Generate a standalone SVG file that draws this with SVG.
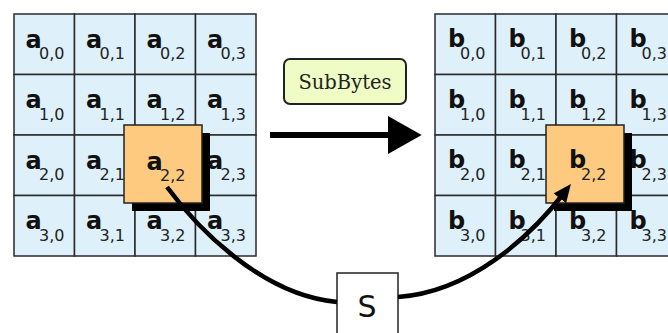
<svg xmlns="http://www.w3.org/2000/svg" width="668" height="333" viewBox="0 0 668 333">
<defs>
<style>
.cell{fill:#def0fa;stroke:#2a2a2a;stroke-width:1.5}
.hl{fill:#fdca80;stroke:#222;stroke-width:1.5}
.sh{fill:#000}
.m{font-family:"DejaVu Sans",sans-serif;font-weight:bold;font-size:24px;fill:#111}
.s{font-family:"DejaVu Sans",sans-serif;font-size:16px;fill:#222}
.conn{fill:none;stroke:#000;stroke-width:4.5}
</style>
<marker id="head" markerUnits="userSpaceOnUse" markerWidth="18" markerHeight="16" refX="6" refY="7" orient="auto" viewBox="0 0 16 14">
<path d="M0,0 L16,7 L0,14 z" fill="#000"/>
</marker>
<marker id="bighead" markerUnits="userSpaceOnUse" markerWidth="34" markerHeight="38" refX="2" refY="18" orient="auto" viewBox="0 0 32 36">
<path d="M0,0 L32,18 L0,36 z" fill="#000"/>
</marker>
</defs>
<rect width="668" height="333" fill="#fff"/>
<g id="stateA">
<g id="a00"><rect class="cell" x="14" y="14" width="60.5" height="60.5"/><text class="m" x="25.5" y="47.5">a</text><text class="s" x="39" y="59">0,0</text></g>
<g id="a01"><rect class="cell" x="74.5" y="14" width="60.5" height="60.5"/><text class="m" x="86" y="47.5">a</text><text class="s" x="99.5" y="59">0,1</text></g>
<g id="a02"><rect class="cell" x="135" y="14" width="60.5" height="60.5"/><text class="m" x="146.5" y="47.5">a</text><text class="s" x="160" y="59">0,2</text></g>
<g id="a03"><rect class="cell" x="195.5" y="14" width="60.5" height="60.5"/><text class="m" x="207" y="47.5">a</text><text class="s" x="220.5" y="59">0,3</text></g>
<g id="a10"><rect class="cell" x="14" y="74.5" width="60.5" height="60.5"/><text class="m" x="25.5" y="108">a</text><text class="s" x="39" y="119.5">1,0</text></g>
<g id="a11"><rect class="cell" x="74.5" y="74.5" width="60.5" height="60.5"/><text class="m" x="86" y="108">a</text><text class="s" x="99.5" y="119.5">1,1</text></g>
<g id="a12"><rect class="cell" x="135" y="74.5" width="60.5" height="60.5"/><text class="m" x="146.5" y="108">a</text><text class="s" x="160" y="119.5">1,2</text></g>
<g id="a13"><rect class="cell" x="195.5" y="74.5" width="60.5" height="60.5"/><text class="m" x="207" y="108">a</text><text class="s" x="220.5" y="119.5">1,3</text></g>
<g id="a20"><rect class="cell" x="14" y="135" width="60.5" height="60.5"/><text class="m" x="25.5" y="168.5">a</text><text class="s" x="39" y="180">2,0</text></g>
<g id="a21"><rect class="cell" x="74.5" y="135" width="60.5" height="60.5"/><text class="m" x="86" y="168.5">a</text><text class="s" x="99.5" y="180">2,1</text></g>
<g id="a22cell"><rect class="cell" x="135" y="135" width="60.5" height="60.5"/></g>
<g id="a23"><rect class="cell" x="195.5" y="135" width="60.5" height="60.5"/><text class="m" x="207" y="168.5">a</text><text class="s" x="220.5" y="180">2,3</text></g>
<g id="a30"><rect class="cell" x="14" y="195.5" width="60.5" height="60.5"/><text class="m" x="25.5" y="229">a</text><text class="s" x="39" y="240.5">3,0</text></g>
<g id="a31"><rect class="cell" x="74.5" y="195.5" width="60.5" height="60.5"/><text class="m" x="86" y="229">a</text><text class="s" x="99.5" y="240.5">3,1</text></g>
<g id="a32"><rect class="cell" x="135" y="195.5" width="60.5" height="60.5"/><text class="m" x="146.5" y="229">a</text><text class="s" x="160" y="240.5">3,2</text></g>
<g id="a33"><rect class="cell" x="195.5" y="195.5" width="60.5" height="60.5"/><text class="m" x="207" y="229">a</text><text class="s" x="220.5" y="240.5">3,3</text></g>
</g>
<g id="a22"><rect class="sh" x="132" y="133" width="78" height="78"/><rect class="hl" x="124" y="125" width="78" height="78"/><text class="m" x="146.5" y="169.5">a</text><text class="s" x="160" y="181">2,2</text></g>
<g id="stateB">
<g id="b00"><rect class="cell" x="435" y="14" width="60.5" height="60.5"/><text class="m" x="448" y="47">b</text><text class="s" x="460" y="59">0,0</text></g>
<g id="b01"><rect class="cell" x="495.5" y="14" width="60.5" height="60.5"/><text class="m" x="508.5" y="47">b</text><text class="s" x="520.5" y="59">0,1</text></g>
<g id="b02"><rect class="cell" x="556" y="14" width="60.5" height="60.5"/><text class="m" x="569" y="47">b</text><text class="s" x="581" y="59">0,2</text></g>
<g id="b03"><rect class="cell" x="616.5" y="14" width="60.5" height="60.5"/><text class="m" x="629.5" y="47">b</text><text class="s" x="641.5" y="59">0,3</text></g>
<g id="b10"><rect class="cell" x="435" y="74.5" width="60.5" height="60.5"/><text class="m" x="448" y="107.5">b</text><text class="s" x="460" y="119.5">1,0</text></g>
<g id="b11"><rect class="cell" x="495.5" y="74.5" width="60.5" height="60.5"/><text class="m" x="508.5" y="107.5">b</text><text class="s" x="520.5" y="119.5">1,1</text></g>
<g id="b12"><rect class="cell" x="556" y="74.5" width="60.5" height="60.5"/><text class="m" x="569" y="107.5">b</text><text class="s" x="581" y="119.5">1,2</text></g>
<g id="b13"><rect class="cell" x="616.5" y="74.5" width="60.5" height="60.5"/><text class="m" x="629.5" y="107.5">b</text><text class="s" x="641.5" y="119.5">1,3</text></g>
<g id="b20"><rect class="cell" x="435" y="135" width="60.5" height="60.5"/><text class="m" x="448" y="168">b</text><text class="s" x="460" y="180">2,0</text></g>
<g id="b21"><rect class="cell" x="495.5" y="135" width="60.5" height="60.5"/><text class="m" x="508.5" y="168">b</text><text class="s" x="520.5" y="180">2,1</text></g>
<g id="b22cell"><rect class="cell" x="556" y="135" width="60.5" height="60.5"/></g>
<g id="b23"><rect class="cell" x="616.5" y="135" width="60.5" height="60.5"/><text class="m" x="629.5" y="168">b</text><text class="s" x="641.5" y="180">2,3</text></g>
<g id="b30"><rect class="cell" x="435" y="195.5" width="60.5" height="60.5"/><text class="m" x="448" y="228.5">b</text><text class="s" x="460" y="240.5">3,0</text></g>
<g id="b31"><rect class="cell" x="495.5" y="195.5" width="60.5" height="60.5"/><text class="m" x="508.5" y="228.5">b</text><text class="s" x="520.5" y="240.5">3,1</text></g>
<g id="b32"><rect class="cell" x="556" y="195.5" width="60.5" height="60.5"/><text class="m" x="569" y="228.5">b</text><text class="s" x="581" y="240.5">3,2</text></g>
<g id="b33"><rect class="cell" x="616.5" y="195.5" width="60.5" height="60.5"/><text class="m" x="629.5" y="228.5">b</text><text class="s" x="641.5" y="240.5">3,3</text></g>
</g>
<g id="b22"><rect class="sh" x="554" y="133" width="78" height="78"/><rect class="hl" x="546" y="125" width="78" height="78"/><text class="m" x="569" y="168">b</text><text class="s" x="581" y="180">2,2</text></g>
<g id="subbytes"><rect x="284" y="59" width="122" height="45" rx="6" ry="6" fill="#f0fcc6" stroke="#222" stroke-width="2"/><text x="345" y="88.5" text-anchor="middle" font-family="'DejaVu Serif',serif" font-size="19.5" fill="#222">SubBytes</text></g>
<g id="sbox"><rect x="337" y="273" width="61" height="80" fill="#fff" stroke="#222" stroke-width="1.5"/><text x="367" y="317" text-anchor="middle" font-family="'DejaVu Sans',sans-serif" font-size="30" fill="#111">S</text></g>
<g id="connectors">
<path d="M270,135 L390,135" fill="none" stroke="#000" stroke-width="6" marker-end="url(#bighead)"/>
<path class="conn" d="M167,187 C195,225 260,295 337,302"/>
<path class="conn" d="M398,297 C470,292 530,237 564,193" marker-end="url(#head)"/>
</g>
</svg>
